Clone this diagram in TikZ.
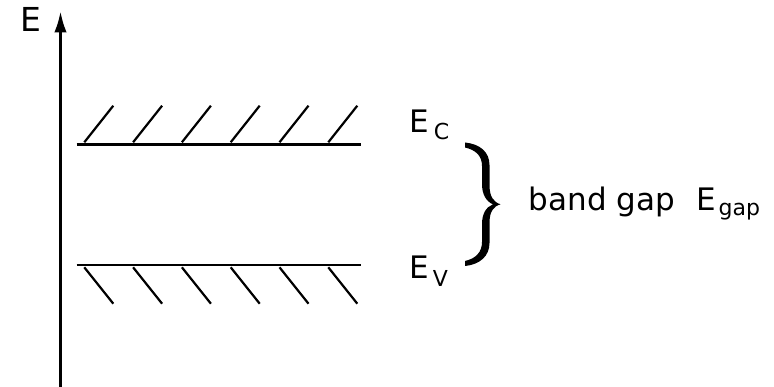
\documentclass[tikz,border=0pt]{standalone}
\usepackage{fontspec}
\setmainfont{DejaVu Sans}
\usetikzlibrary{arrows.meta}
\tikzset{
  lbl/.style={inner sep=0pt, outer sep=0pt, anchor=base west, font=\fontsize{31}{31}\selectfont},
  level/.style={line width=2.4pt},
  hatch/.style={line width=2.2pt},
  axis/.style={line width=2.4pt, -{Latex[length=21pt,width=12.5pt]}}
}
\newcommand{\subfs}{\fontsize{22}{22}\selectfont}
\begin{document}
\begin{tikzpicture}[x=1pt,y=-1pt]
\useasboundingbox (0,0) rectangle (774,387);
% axis
\coordinate (axbot) at (60.5,390);
\coordinate (axtop) at (60.5,11.5);
\draw[axis] (axbot) -- (axtop);
\node[lbl, font=\fontsize{33}{33}\selectfont] (Elab) at (20,31.5) {E};
% levels
\coordinate (cl) at (76.7,144.7);
\coordinate (cr) at (360.7,144.7);
\coordinate (vl) at (76.7,265);
\coordinate (vr) at (360.7,265);
\draw[level] (cl) -- (cr);
\draw[level] (vl) -- (vr);
\foreach \i in {0,...,5}{
  \draw[hatch] ({84.3+\i*48.8},142.3) -- ({113.3+\i*48.8},105.7);
  \draw[hatch] ({84.3+\i*48.8},267.3) -- ({113.3+\i*48.8},303.7);
}
% labels
\node[lbl] (EC) at (409.7,132.5) {E\hspace{4.5pt}\raisebox{-7.3pt}{\subfs C}};
\node[lbl] (EV) at (409.7,278.5) {E\hspace{3.5pt}\raisebox{-8.4pt}{\subfs V}};
% brace
\fill (465,142.5) .. controls (480,144) and (489.5,152) .. (489.5,165) -- (489.5,185)
  .. controls (489.5,196) and (493,202) .. (500.5,204.3)
  .. controls (493,206.5) and (489.5,212) .. (489.5,223) -- (489.5,243)
  .. controls (489.5,256) and (480,264.5) .. (465,266)
  -- (465,261) .. controls (476,258.5) and (482,252) .. (482,242) -- (482,224)
  .. controls (482,214) and (486,207) .. (493,204.3)
  .. controls (486,201.5) and (482,194) .. (482,184) -- (482,166)
  .. controls (482,156) and (476,150) .. (465,147.5) -- cycle;
\node[lbl] (bg) at (528.8,210.5) {band gap};
\node[lbl] (Egap) at (696,210.5) {E\hspace{3pt}\raisebox{-5pt}{\subfs gap}};
\end{tikzpicture}
\end{document}
